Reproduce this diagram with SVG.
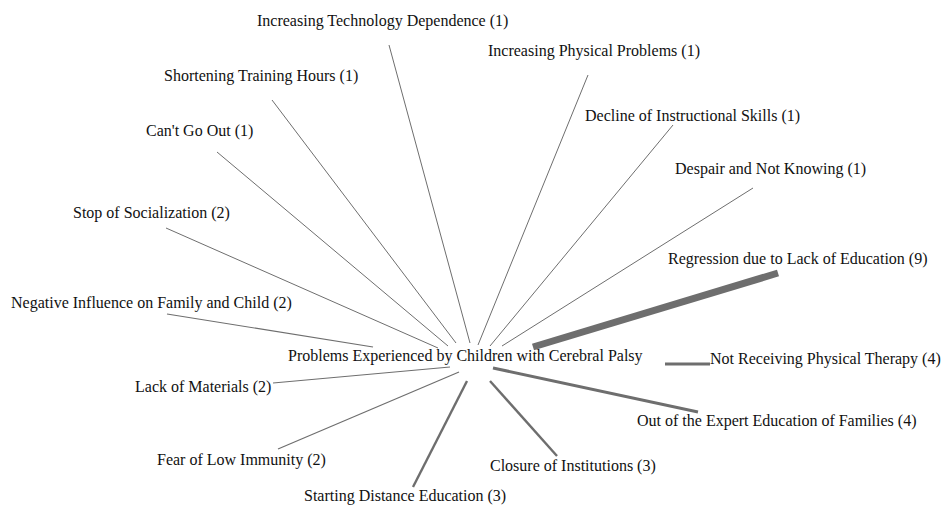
<svg xmlns="http://www.w3.org/2000/svg" width="943" height="508" viewBox="0 0 943 508">
<style>
text{font-family:"Liberation Serif","Times New Roman",serif;font-size:16px;fill:#111}
.e{stroke:#6e6e6e;stroke-linecap:butt;fill:none}
</style>
<rect width="943" height="508" fill="#fff"/>
<g id="connectors">
<line class="e" x1="389" y1="45" x2="470" y2="343" stroke-width="1"/>
<line class="e" x1="272" y1="100" x2="456" y2="343" stroke-width="1"/>
<line class="e" x1="217" y1="152" x2="448" y2="346" stroke-width="1"/>
<line class="e" x1="166" y1="228" x2="438" y2="348" stroke-width="1"/>
<line class="e" x1="167" y1="314" x2="373" y2="347" stroke-width="1.2"/>
<line class="e" x1="273" y1="383" x2="450" y2="367" stroke-width="1.2"/>
<line class="e" x1="278" y1="449" x2="459" y2="372" stroke-width="1.2"/>
<line class="e" x1="413" y1="487" x2="467" y2="381" stroke-width="2.4"/>
<line class="e" x1="490" y1="381" x2="557" y2="456" stroke-width="2.4"/>
<line class="e" x1="493" y1="368" x2="698" y2="412" stroke-width="3"/>
<line class="e" x1="665" y1="364" x2="710" y2="364" stroke-width="3"/>
<line class="e" x1="533" y1="347" x2="778" y2="273" stroke-width="7"/>
<line class="e" x1="502" y1="346" x2="753" y2="188" stroke-width="1"/>
<line class="e" x1="490" y1="346" x2="673" y2="125" stroke-width="1"/>
<line class="e" x1="478" y1="345" x2="588" y2="75" stroke-width="1"/>
</g>
<g id="center"><text x="288" y="361">Problems Experienced by Children with Cerebral Palsy</text></g>
<g id="n1"><text x="257" y="26">Increasing Technology Dependence (1)</text></g>
<g id="n2"><text x="488" y="56">Increasing Physical Problems (1)</text></g>
<g id="n3"><text x="164" y="81">Shortening Training Hours (1)</text></g>
<g id="n4"><text x="585" y="121">Decline of Instructional Skills (1)</text></g>
<g id="n5"><text x="146" y="136">Can't Go Out (1)</text></g>
<g id="n6"><text x="675" y="174">Despair and Not Knowing (1)</text></g>
<g id="n7"><text x="73" y="218">Stop of Socialization (2)</text></g>
<g id="n8"><text x="668" y="264">Regression due to Lack of Education (9)</text></g>
<g id="n9"><text x="11" y="308">Negative Influence on Family and Child (2)</text></g>
<g id="n10"><text x="710" y="364">Not Receiving Physical Therapy (4)</text></g>
<g id="n11"><text x="135" y="392">Lack of Materials (2)</text></g>
<g id="n12"><text x="637" y="426">Out of the Expert Education of Families (4)</text></g>
<g id="n13"><text x="157" y="465">Fear of Low Immunity (2)</text></g>
<g id="n14"><text x="490" y="471">Closure of Institutions (3)</text></g>
<g id="n15"><text x="304" y="501">Starting Distance Education (3)</text></g>
</svg>
